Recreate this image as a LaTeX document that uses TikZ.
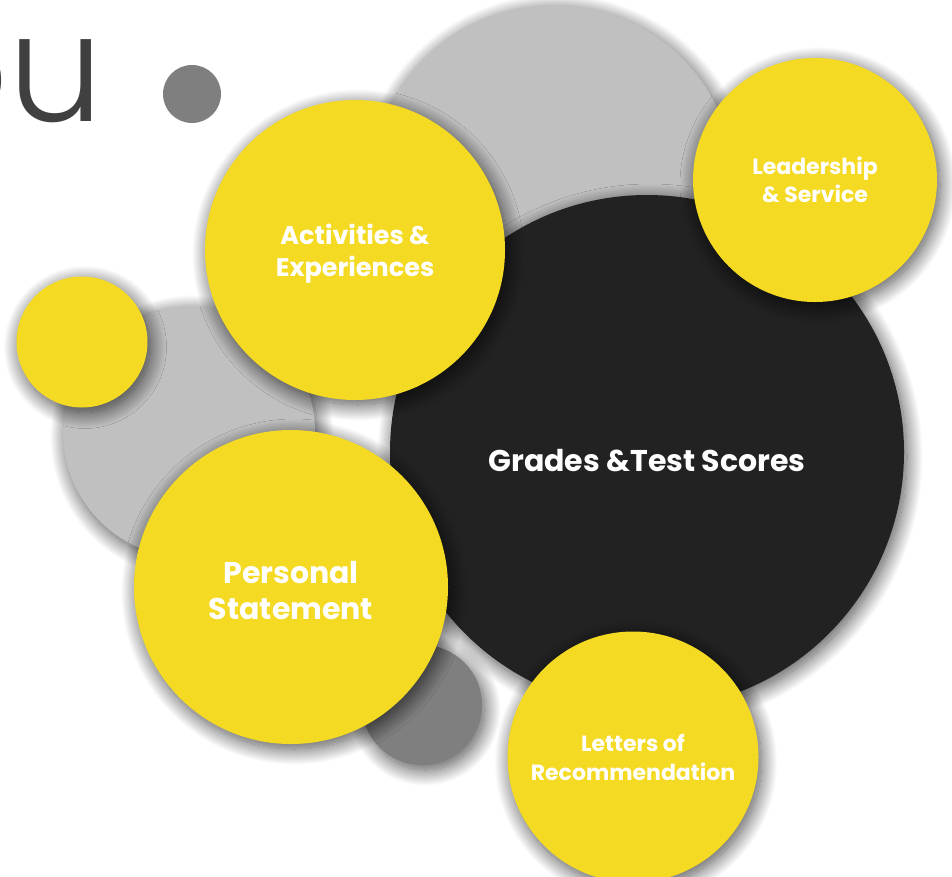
\documentclass[tikz,border=0pt]{standalone}
\usepackage{fontspec}
\setmainfont{Poppins}
\newfontfamily\thinfont{Poppins}[UprightFont={* Light}]
\usetikzlibrary{shadows.blur}

\definecolor{bubbleyellow}{HTML}{F4DA22}
\definecolor{bubbleblack}{HTML}{222222}
\definecolor{bubblegray}{HTML}{C0C0C0}
\definecolor{bubbledark}{HTML}{7F7F7F}
\definecolor{titlegray}{HTML}{404040}

\begin{document}
\begin{tikzpicture}[x=1pt,y=-1pt,
  bubble/.style = {circle,inner sep=0pt,align=center,text=white,
    blur shadow={shadow xshift=3pt,shadow yshift=-5pt,shadow blur radius=16pt,
      shadow blur steps=25,shadow opacity=70}},
  yellowbubble/.style = {bubble,fill=bubbleyellow},
  graybubble/.style = {bubble,fill=bubblegray},
  darkbubble/.style = {bubble,fill=bubbledark}]
\useasboundingbox (0,0) rectangle (952,876);
\clip (0,0) rectangle (952,876);

% title remains and dot
\node[anchor=base east,inner sep=0pt,text=titlegray,font=\thinfont\fontsize{150}{150}\selectfont] (title) at (104,121) {ou};
\node[circle,fill=bubbledark,inner sep=0pt,minimum size=58pt] (dot) at (192,94) {};

% background circles
\node[graybubble,minimum size=366pt] (top) at (553,188) {};
\node[graybubble,minimum size=252pt] (left) at (189,432) {};
\node[darkbubble,minimum size=120pt] (small) at (422,705) {};
\node[bubble,fill=bubbleblack,minimum size=514pt] (grades) at (647,452) {};
\node[text=white,font=\bfseries\fontsize{30}{36}\selectfont] (gradestext) at ([yshift=-9pt]grades.center) {Grades \&Test Scores};

% yellow circles
\node[yellowbubble,minimum size=131pt] (dotyellow) at (82,342) {};
\node[yellowbubble,minimum size=300pt] (activities) at (355,250) {};
\node[text=white,align=center,font=\bfseries\fontsize{25.5}{32}\selectfont] (activitiestext) at ([yshift=-4pt]activities.center) {Activities \&\\Experiences};
\node[yellowbubble,minimum size=244pt,font=\bfseries\fontsize{22}{28}\selectfont] (leadership) at (815,180) {Leadership\\\& Service};
\node[yellowbubble,minimum size=314pt] (personal) at (291,587) {};
\node[text=white,align=center,font=\bfseries\fontsize{30}{36}\selectfont] (personaltext) at ([yshift=-4pt]personal.center) {Personal\\Statement};
\node[yellowbubble,minimum size=251pt,font=\bfseries\fontsize{22}{29}\selectfont] (letters) at (633,757) {Letters of\\Recommendation};
\end{tikzpicture}
\end{document}
